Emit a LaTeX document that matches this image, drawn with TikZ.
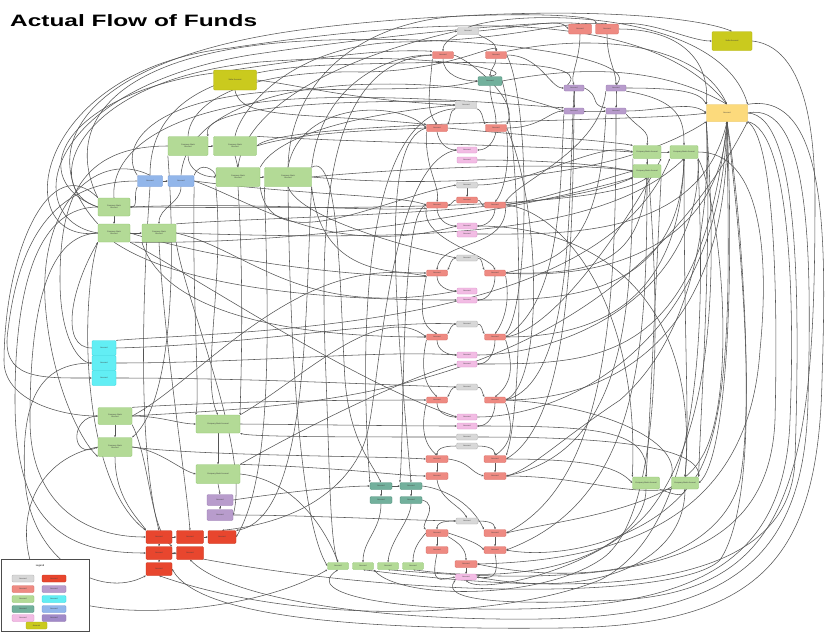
\documentclass[tikz,border=0pt]{standalone}
\usepackage{fontspec}
\setmainfont{Liberation Sans}
\usetikzlibrary{arrows.meta,backgrounds}
\definecolor{cG}{HTML}{B3DA96}\definecolor{cGd}{HTML}{8EC46E}
\definecolor{cY}{HTML}{CACA1E}\definecolor{cYd}{HTML}{B2B20E}
\definecolor{cO}{HTML}{FCDA7C}\definecolor{cOd}{HTML}{E8C050}
\definecolor{cB}{HTML}{92B6EA}\definecolor{cBd}{HTML}{6E96D6}
\definecolor{cC}{HTML}{62EEF4}\definecolor{cCd}{HTML}{30D8E0}
\definecolor{cR}{HTML}{E8462E}\definecolor{cRd}{HTML}{C83018}
\definecolor{cS}{HTML}{EE8A82}\definecolor{cSd}{HTML}{D86A62}
\definecolor{cGy}{HTML}{D8D8D8}\definecolor{cGyd}{HTML}{B0B0B0}
\definecolor{cT}{HTML}{72B09C}\definecolor{cTd}{HTML}{4E8E7A}
\definecolor{cP}{HTML}{F2BCE4}\definecolor{cPd}{HTML}{DC94CC}
\definecolor{cU}{HTML}{B89CCC}\definecolor{cUd}{HTML}{9878B0}
\definecolor{cV}{HTML}{A08AC8}
\definecolor{lc}{HTML}{555555}
\tikzset{
 box/.style={rounded corners=1.2pt, line width=0.3pt, inner sep=0pt, align=center,
   font=\fontsize{2}{2.3}\selectfont, text=black!75},
 grn/.style={box, fill=cG, draw=cGd},
 yel/.style={box, fill=cY, draw=cYd},
 org/.style={box, fill=cO, draw=cOd},
 blu/.style={box, fill=cB, draw=cBd},
 cyn/.style={box, fill=cC, draw=cCd},
 red/.style={box, fill=cR, draw=cRd},
 sal/.style={box, fill=cS, draw=cSd},
 gry/.style={box, fill=cGy, draw=cGyd},
 tea/.style={box, fill=cT, draw=cTd},
 pnk/.style={box, fill=cP, draw=cPd},
 pur/.style={box, fill=cU, draw=cUd},
 wh/.style={minimum width=#1},
 ht/.style={minimum height=#1},
 ln/.style={draw=lc, line width=0.55pt, -{Stealth[length=2.2pt,width=1.8pt]}},
}
\begin{document}
\begin{tikzpicture}[x=1pt,y=1pt]
\useasboundingbox (0,0) rectangle (828,-632);
\node[anchor=base west, inner sep=0pt, font=\fontsize{16.5}{18}\selectfont\bfseries] (title) at (10,-26.5) {\scalebox{1.48}[1]{Actual Flow of Funds}};
% ---------------- nodes ----------------
\node[yel,wh=43,ht=20] (sA) at (235,-80) {Seller Account};
\node[yel,wh=40,ht=19] (sB) at (732,-41) {Seller Account};
\node[grn,wh=40,ht=19] (g1) at (188,-146) {Company Bank\\Account};
\node[grn,wh=43,ht=19] (g2) at (235,-146) {Company Bank\\Account};
\node[grn,wh=44,ht=19] (g3) at (238,-177) {Company Bank\\Account};
\node[grn,wh=47,ht=19] (g4) at (288,-177) {Company Bank\\Account};
\node[blu,wh=25,ht=11] (b1) at (150,-181) {Account};
\node[blu,wh=26,ht=11] (b2) at (181,-181) {Account};
\node[grn,wh=32,ht=18] (g5) at (114,-207) {Company Bank\\Account};
\node[grn,wh=32,ht=18] (g6) at (114,-233) {Company Bank\\Account};
\node[grn,wh=34,ht=18] (g7) at (159,-233) {Company Bank\\Account};
\node[cyn,wh=24,ht=15] (c1) at (104,-348) {Account};
\node[cyn,wh=24,ht=15] (c2) at (104,-363) {Account};
\node[cyn,wh=24,ht=15] (c3) at (104,-378) {Account};
\node[grn,wh=34,ht=17] (g8) at (115,-416) {Company Bank\\Account};
\node[grn,wh=34,ht=19] (g9) at (115,-447) {Company Bank\\Account};
\node[grn,wh=44,ht=18] (g10) at (218,-424) {Company Bank Account};
\node[grn,wh=44,ht=19] (g11) at (218,-474) {Company Bank Account};
\node[pur,wh=26,ht=11] (p1) at (220,-500) {Account};
\node[pur,wh=26,ht=11] (p2) at (220,-515) {Account};
\node[red,wh=26,ht=13] (r1) at (159,-537) {Account};
\node[red,wh=27,ht=13] (r2) at (190,-537) {Account};
\node[red,wh=28,ht=13] (r3) at (222,-537) {Account};
\node[red,wh=26,ht=13] (r4) at (159,-553) {Account};
\node[red,wh=27,ht=13] (r5) at (190,-553) {Account};
\node[red,wh=26,ht=13] (r6) at (159,-569) {Account};
% middle top
\node[gry,wh=21,ht=7] (gy1) at (468,-31) {Account};
\node[sal,wh=21,ht=7] (s1) at (443,-55) {Account};
\node[sal,wh=21,ht=7] (s2) at (496,-55) {Account};
\node[tea,wh=24,ht=9] (t1) at (490,-81) {Account};
\node[gry,wh=21,ht=7] (gy2) at (466,-105) {Account};
\node[sal,wh=21,ht=7] (s3) at (437,-128) {Account};
\node[sal,wh=21,ht=7] (s4) at (496,-128) {Account};
\node[pnk,wh=20,ht=6] (pk1) at (467,-150) {Account};
\node[pnk,wh=20,ht=6] (pk2) at (467,-160) {Account};
\node[sal,wh=23,ht=10] (rr1) at (580,-29) {Account};
\node[sal,wh=23,ht=10] (rr2) at (607,-29) {Account};
\node[pur,wh=20,ht=6] (pu1) at (574,-88) {Account};
\node[pur,wh=20,ht=6] (pu2) at (616,-88) {Account};
\node[pur,wh=20,ht=6] (pu3) at (574,-111) {Account};
\node[pur,wh=20,ht=6] (pu4) at (616,-111) {Account};
\node[grn,wh=28,ht=13] (gr1) at (647,-152) {Company Bank Account};
\node[grn,wh=28,ht=13] (gr2) at (684,-152) {Company Bank Account};
\node[grn,wh=28,ht=13] (gr3) at (647,-171) {Company Bank Account};
\node[org,wh=41,ht=17] (or1) at (727,-113) {Account};
\node[grn,wh=27,ht=12] (gr4) at (646,-483) {Company Bank Account};
\node[grn,wh=27,ht=12] (gr5) at (685,-483) {Company Bank Account};
% sections
\node[gry,wh=21,ht=6] (gy3) at (467,-185) {Account};
\node[sal,wh=21,ht=6] (rd1) at (467,-200) {Account};
\node[sal,wh=21,ht=6] (s5) at (437,-205) {Account};
\node[sal,wh=21,ht=6] (s6) at (495,-205) {Account};
\node[pnk,wh=20,ht=6] (pk3) at (467,-226) {Account};
\node[pnk,wh=20,ht=6] (pk4) at (467,-234) {Account};
\node[gry,wh=21,ht=6] (gy4) at (467,-258) {Account};
\node[sal,wh=21,ht=6] (s7) at (437,-273) {Account};
\node[sal,wh=21,ht=6] (s8) at (495,-273) {Account};
\node[pnk,wh=20,ht=6] (pk5) at (467,-291) {Account};
\node[pnk,wh=20,ht=6] (pk6) at (467,-300) {Account};
\node[gry,wh=21,ht=6] (gy5) at (467,-324) {Account};
\node[sal,wh=21,ht=6] (s9) at (437,-337) {Account};
\node[sal,wh=21,ht=6] (s10) at (495,-337) {Account};
\node[pnk,wh=20,ht=6] (pk7) at (467,-355) {Account};
\node[pnk,wh=20,ht=6] (pk8) at (467,-364) {Account};
\node[gry,wh=21,ht=6] (gy6) at (467,-387) {Account};
\node[sal,wh=21,ht=6] (s11) at (437,-400) {Account};
\node[sal,wh=21,ht=6] (s12) at (495,-400) {Account};
\node[pnk,wh=20,ht=6] (pk9) at (467,-417) {Account};
\node[pnk,wh=20,ht=6] (pk10) at (467,-426) {Account};
\node[gry,wh=21,ht=6] (gy7) at (467,-437) {Account};
\node[gry,wh=21,ht=6] (gy8) at (467,-446) {Account};
\node[sal,wh=22,ht=7] (s13) at (437,-459) {Account};
\node[sal,wh=22,ht=7] (s14) at (495,-459) {Account};
\node[sal,wh=22,ht=7] (s15) at (437,-476) {Account};
\node[sal,wh=22,ht=7] (s16) at (495,-476) {Account};
\node[tea,wh=22,ht=7] (t2) at (381,-486) {Account};
\node[tea,wh=22,ht=7] (t3) at (411,-486) {Account};
\node[tea,wh=22,ht=7] (t4) at (381,-500) {Account};
\node[tea,wh=22,ht=7] (t5) at (411,-500) {Account};
\node[gry,wh=22,ht=6] (gy9) at (467,-521) {Account};
\node[sal,wh=22,ht=7] (s17) at (437,-533) {Account};
\node[sal,wh=22,ht=7] (s18) at (495,-533) {Account};
\node[sal,wh=22,ht=7] (s19) at (437,-550) {Account};
\node[sal,wh=22,ht=7] (s20) at (495,-550) {Account};
\node[sal,wh=22,ht=7] (s21) at (466,-564) {Account};
\node[pnk,wh=21,ht=6] (pk11) at (466,-577) {Account};
\node[grn,wh=21,ht=7] (gb1) at (338,-566) {Account};
\node[grn,wh=21,ht=7] (gb2) at (363,-566) {Account};
\node[grn,wh=21,ht=7] (gb3) at (388,-566) {Account};
\node[grn,wh=21,ht=7] (gb4) at (413,-566) {Account};
% ---------------- connectors ----------------
\begin{pgfonlayer}{background}
\fill[white] (0,0) rectangle (828,-632);
% top arcs left -> right
\draw[ln] (g5.north west) .. controls (60,-120) and (120,-45) .. (330,-40) .. controls (500,-35) and (640,-60) .. (pu2.north);
\draw[ln] (g6.west) .. controls (20,-220) and (40,-90) .. (250,-55) .. controls (420,-30) and (560,-20) .. (rr1.north);
\draw[ln] (g6.west) .. controls (8,-245) and (30,-70) .. (230,-48) .. controls (450,-15) and (650,-8) .. (or1.north);
\draw[ln] (g5.west) .. controls (40,-190) and (70,-80) .. (260,-62) .. controls (420,-50) and (520,-70) .. (t1.north);
\draw[ln] (g6.north west) .. controls (30,-150) and (80,-60) .. (300,-30) .. controls (450,-10) and (600,-12) .. (rr2.north west);
\draw[ln] (g5.west) .. controls (25,-180) and (60,-100) .. (200,-75) .. controls (300,-60) and (380,-48) .. (s1.north west);
\draw[ln] (b1.north) .. controls (150,-110) and (200,-70) .. (330,-65) .. controls (480,-60) and (600,-60) .. (pu1.west);
\draw[ln] (b2.north) .. controls (185,-120) and (260,-90) .. (350,-85) .. controls (450,-80) and (520,-95) .. (pu3.west);
\draw[ln] (g1.north) .. controls (190,-100) and (250,-70) .. (360,-72) .. controls (450,-72) and (500,-40) .. (s2.north);
\draw[ln] (g2.north) .. controls (240,-110) and (290,-45) .. (400,-42) .. controls (520,-40) and (560,-20) .. (rr2.north);
\draw[ln] (g4.north) .. controls (290,-80) and (360,-22) .. (460,-16) .. controls (600,-8) and (700,-18) .. (sB.north);
\draw[ln] (g3.north) .. controls (245,-110) and (330,-60) .. (gy1.west);
\draw[ln] (g4.north east) .. controls (320,-90) and (380,-55) .. (s1.west);
\draw[ln] (g4.north) .. controls (300,-100) and (400,-100) .. (s3.west);
\draw[ln] (g3.north east) .. controls (280,-130) and (380,-112) .. (gy2.west);
\draw[ln] (b1.north west) .. controls (120,-150) and (140,-95) .. (300,-90) .. controls (420,-88) and (440,-90) .. (t1.west);
\draw[ln] (g5.north) .. controls (110,-150) and (170,-110) .. (280,-100) .. controls (380,-92) and (520,-105) .. (pu3.north west);
\draw[ln] (sA.south) .. controls (240,-120) and (300,-112) .. (s3.north west);
\draw[ln] (gy2.north west) .. controls (300,-100) and (200,-110) .. (g1.north east);
\draw[ln] (sA.east) .. controls (300,-85) and (350,-100) .. (gy2.west);
% top right area
\draw[ln] (gy1.east) .. controls (540,-25) and (560,-18) .. (rr1.west);
\draw[ln] (rr1.south) .. controls (580,-60) and (570,-75) .. (pu1.north);
\draw[ln] (rr2.south) .. controls (607,-60) and (616,-70) .. (pu2.north);
\draw[ln] (pu1.south) to[out=-90,in=90] (pu3.north);
\draw[ln] (pu2.south) to[out=-90,in=90] (pu4.north);
\draw[ln] (pu3.east) to[out=0,in=180] (pu4.west);
\draw[ln] (pu1.east) .. controls (600,-95) and (590,-105) .. (pu4.north west);
\draw[ln] (s2.east) .. controls (540,-55) and (550,-88) .. (pu1.west);
\draw[ln] (s4.east) .. controls (540,-128) and (550,-111) .. (pu3.west);
\draw[ln] (rr2.east) .. controls (680,-29) and (710,-60) .. (or1.north west);
\draw[ln] (pu2.east) .. controls (680,-88) and (700,-92) .. (or1.north west);
\draw[ln] (s2.north east) .. controls (600,-32) and (700,-45) .. (or1.north);
\draw[ln] (gy1.north) .. controls (520,-8) and (720,-10) .. (or1.north east);
\draw[ln] (rr2.north east) .. controls (650,-20) and (690,-41) .. (sB.west);
\draw[ln] (pu4.east) .. controls (660,-111) and (690,-100) .. (or1.west);
\draw[ln] (t1.east) .. controls (560,-70) and (650,-60) .. (or1.north);
\draw[ln] (pu4.south east) .. controls (640,-130) and (650,-130) .. (gr1.north);
\draw[ln] (pu2.south east) .. controls (680,-100) and (684,-120) .. (gr2.north);
\draw[ln] (gr1.east) to[out=0,in=180] (gr2.west);
\draw[ln] (gr1.south) to[out=-90,in=90] (gr3.north);
% middle top section
\draw[ln] (gy1.south west) to[out=-150,in=90] (s1.north);
\draw[ln] (gy1.south east) to[out=-30,in=90] (s2.north);
\draw[ln] (s1.south) to[out=-90,in=180] (t1.west);
\draw[ln] (s2.south) to[out=-90,in=90] (t1.north);
\draw[ln] (t1.south) to[out=-90,in=90] (s4.north);
\draw[ln] (s1.south west) .. controls (430,-90) and (425,-110) .. (s3.north);
\draw[ln] (gy2.south west) to[out=-160,in=60] (s3.north east);
\draw[ln] (gy2.south east) to[out=-20,in=120] (s4.north west);
\draw[ln] (s3.south) to[out=-80,in=180] (pk1.west);
\draw[ln] (s4.south) to[out=-100,in=0] (pk1.east);
\draw[ln] (s3.south west) .. controls (425,-170) and (440,-185) .. (s5.north);
\draw[ln] (s4.south east) .. controls (510,-160) and (505,-190) .. (s6.north);
\draw[ln] (s1.east) .. controls (470,-60) and (520,-100) .. (s4.north east);
% section 2
\draw[ln] (gy3.south) -- (rd1.north);
\draw[ln] (rd1.west) to[out=180,in=0] (s5.east);
\draw[ln] (rd1.east) to[out=0,in=180] (s6.west);
\draw[ln] (s5.south) to[out=-90,in=180] (pk3.west);
\draw[ln] (s6.south) to[out=-90,in=0] (pk3.east);
\draw[ln] (s6.south east) .. controls (505,-250) and (440,-240) .. (s7.north);
\draw[ln] (s5.south west) .. controls (420,-240) and (490,-255) .. (s8.north);
% section 3
\draw[ln] (gy4.west) to[out=180,in=60] (s7.north east);
\draw[ln] (gy4.east) to[out=0,in=120] (s8.north west);
\draw[ln] (s7.south) to[out=-90,in=180] (pk5.west);
\draw[ln] (s8.south) to[out=-90,in=0] (pk6.east);
\draw[ln] (s7.south west) .. controls (420,-310) and (420,-325) .. (s9.north);
\draw[ln] (s8.south east) .. controls (510,-300) and (505,-320) .. (s10.north);
% section 4
\draw[ln] (gy5.west) to[out=180,in=60] (s9.north east);
\draw[ln] (gy5.east) to[out=0,in=120] (s10.north west);
\draw[ln] (s9.south) to[out=-90,in=180] (pk7.west);
\draw[ln] (s10.south) to[out=-90,in=0] (pk8.east);
\draw[ln] (s9.south west) .. controls (420,-370) and (425,-385) .. (s11.north);
\draw[ln] (s10.south east) .. controls (515,-370) and (510,-385) .. (s12.north);
% section 5
\draw[ln] (gy6.west) to[out=180,in=60] (s11.north east);
\draw[ln] (gy6.east) to[out=0,in=120] (s12.north west);
\draw[ln] (s11.south) to[out=-90,in=180] (pk9.west);
\draw[ln] (s12.south) to[out=-90,in=0] (pk10.east);
\draw[ln] (s11.south west) .. controls (420,-430) and (425,-445) .. (s13.north);
\draw[ln] (s12.south east) .. controls (515,-430) and (510,-445) .. (s14.north);
% section 6
\draw[ln] (gy8.west) to[out=180,in=90] (s13.north);
\draw[ln] (gy8.east) to[out=0,in=90] (s14.north);
\draw[ln] (s13.south) -- (s15.north);
\draw[ln] (s14.south) -- (s16.north);
\draw[ln] (s13.east) .. controls (470,-462) and (470,-472) .. (s16.west);
\draw[ln] (s15.south) .. controls (440,-500) and (460,-505) .. (gy9.north);
% section 7
\draw[ln] (gy9.west) to[out=180,in=90] (s17.north);
\draw[ln] (gy9.east) to[out=0,in=90] (s18.north);
\draw[ln] (s17.south) -- (s19.north);
\draw[ln] (s18.south) -- (s20.north);
\draw[ln] (s17.south east) to[out=-30,in=90] (s21.north);
\draw[ln] (s21.south) -- (pk11.north);
\draw[ln] (s19.south) .. controls (430,-585) and (440,-580) .. (pk11.west);
\draw[ln] (s20.south) .. controls (500,-580) and (490,-578) .. (pk11.east);
\draw[ln] (s17.east) .. controls (470,-540) and (480,-545) .. (s20.west);
% teal / bottom greens
\draw[ln] (t2.east) -- (t3.west);
\draw[ln] (t3.south) -- (t5.north);
\draw[ln] (t2.south) -- (t4.north);
\draw[ln] (t4.south) .. controls (381,-530) and (363,-540) .. (gb2.north);
\draw[ln] (t5.south) .. controls (411,-520) and (390,-540) .. (gb3.north);
\draw[ln] (s17.west) .. controls (420,-540) and (413,-548) .. (gb4.north);
\draw[ln] (g11.east) .. controls (300,-480) and (330,-540) .. (gb1.north);
\draw[ln] (t3.east) .. controls (440,-488) and (470,-500) .. (s18.north west);
\draw[ln] (t5.east) .. controls (440,-505) and (420,-525) .. (s17.north west);
% left cluster
\draw[ln] (g1.east) -- (g2.west);
\draw[ln] (g2.south) -- (g3.north);
\draw[ln] (g1.south) to[out=-90,in=180] (g3.west);
\draw[ln] (g3.east) -- (g4.west);
\draw[ln] (b1.east) -- (b2.west);
\draw[ln] (g5.south) -- (g6.north);
\draw[ln] (g6.east) -- (g7.west);
\draw[ln] (b1.south west) to[out=-120,in=0] (g5.east);
\draw[ln] (b2.south) to[out=-90,in=90] (g7.north);
\draw[ln] (b2.north east) .. controls (200,-160) and (215,-170) .. (g3.west);
\draw[ln] (g10.south) -- (g11.north);
\draw[ln] (g11.south) -- (p1.north);
\draw[ln] (p1.south) -- (p2.north);
\draw[ln] (g8.east) .. controls (160,-416) and (180,-424) .. (g10.west);
\draw[ln] (g8.south) -- (g9.north);
\draw[ln] (g9.east) .. controls (160,-450) and (180,-470) .. (g11.west);
\draw[ln] (g9.south) .. controls (115,-500) and (140,-520) .. (r1.north west);
\draw[ln] (r1.east) -- (r2.west);
\draw[ln] (r2.east) -- (r3.west);
\draw[ln] (r4.east) -- (r5.west);
\draw[ln] (r1.south) -- (r4.north);
\draw[ln] (r4.south) -- (r6.north);
% left verticals
\draw[ln] (g4.south) .. controls (290,-350) and (300,-520) .. (gb1.west);
\draw[ln] (g4.south west) .. controls (270,-350) and (270,-480) .. (r3.east);
\draw[ln] (g3.south) .. controls (245,-300) and (240,-400) .. (g10.north east);
\draw[ln] (g3.south west) .. controls (225,-280) and (200,-380) .. (g10.north);
\draw[ln] (b1.south) .. controls (142,-300) and (138,-450) .. (r1.north);
\draw[ln] (g7.south) .. controls (165,-350) and (185,-470) .. (r2.north);
\draw[ln] (b2.south east) .. controls (192,-300) and (200,-390) .. (g10.north west);
\draw[ln] (g1.south west) .. controls (175,-250) and (175,-400) .. (g9.north east);
\draw[ln] (g4.south east) .. controls (305,-300) and (310,-520) .. (r3.north east);
\draw[ln] (g7.south east) .. controls (185,-300) and (250,-450) .. (p2.east);
% mid-left verticals
\draw[ln] (g4.north east) .. controls (340,-150) and (340,-300) .. (345,-380) .. controls (350,-440) and (370,-460) .. (t2.north);
\draw[ln] (s3.west) .. controls (380,-140) and (395,-300) .. (t3.north);
\draw[ln] (gy2.south west) .. controls (360,-115) and (360,-350) .. (t2.north west);
\draw[ln] (s5.west) .. controls (400,-210) and (405,-420) .. (t3.north west);
\draw[ln] (s1.west) .. controls (330,-60) and (320,-200) .. (325,-350) .. controls (330,-480) and (330,-540) .. (gb1.north);
\draw[ln] (pk1.west) .. controls (390,-160) and (380,-380) .. (368,-430) .. controls (360,-470) and (320,-520) .. (r3.north);
% horizontals across
\draw[ln] (g2.east) .. controls (300,-132) and (380,-130) .. (s3.west);
\draw[ln] (g2.north east) .. controls (350,-142) and (520,-145) .. (gr1.west);
\draw[ln] (b2.east) .. controls (300,-195) and (400,-195) .. (s5.west);
\draw[ln] (g5.east) .. controls (250,-202) and (380,-212) .. (s5.south west);
\draw[ln] (g7.east) .. controls (400,-240) and (600,-240) .. (gr2.south);
\draw[ln] (g6.south east) .. controls (300,-245) and (500,-215) .. (gr3.south west);
\draw[ln] (g4.east) .. controls (380,-170) and (560,-160) .. (gr3.west);
\draw[ln] (g4.south east) .. controls (320,-268) and (380,-273) .. (s7.west);
\draw[ln] (s8.east) .. controls (600,-275) and (640,-260) .. (gr3.south);
\draw[ln] (g6.south) .. controls (200,-300) and (400,-300) .. (pk6.west);
\draw[ln] (g7.south west) .. controls (170,-330) and (350,-337) .. (s9.west);
\draw[ln] (s10.east) .. controls (600,-337) and (680,-300) .. (gr2.south);
\draw[ln] (c2.east) .. controls (250,-363) and (380,-350) .. (pk7.west);
\draw[ln] (g8.north east) .. controls (250,-400) and (380,-400) .. (s11.west);
\draw[ln] (s12.east) .. controls (600,-400) and (730,-350) .. (or1.south);
\draw[ln] (g10.east) .. controls (350,-425) and (400,-426) .. (pk10.west);
\draw[ln] (g9.east) .. controls (200,-456) and (380,-456) .. (s13.west);
\draw[ln] (s14.east) .. controls (600,-459) and (620,-470) .. (gr4.west);
\draw[ln] (g11.north east) .. controls (350,-468) and (400,-476) .. (s15.west);
\draw[ln] (s16.east) .. controls (580,-476) and (620,-495) .. (gr5.south west);
\draw[ln] (p1.east) .. controls (300,-490) and (350,-486) .. (t2.west);
\draw[ln] (p2.east) .. controls (300,-515) and (400,-520) .. (gy9.west);
\draw[ln] (c3.east) .. controls (250,-378) and (380,-385) .. (gy6.west);
\draw[ln] (c1.east) .. controls (250,-345) and (380,-320) .. (gy5.west);
\draw[ln] (g4.east) .. controls (400,-185) and (600,-190) .. (or1.south west);
\draw[ln] (g2.east) .. controls (280,-120) and (650,-122) .. (or1.west);
\draw[ln] (s3.east) .. controls (520,-135) and (600,-140) .. (gr1.north west);
\draw[ln] (pk2.east) .. controls (550,-160) and (600,-165) .. (gr3.west);
\draw[ln] (g7.north east) .. controls (300,-215) and (550,-215) .. (gr3.south west);
\draw[ln] (pk4.east) .. controls (560,-234) and (700,-240) .. (or1.south);
\draw[ln] (pk6.east) .. controls (560,-300) and (680,-300) .. (gr2.south);
\draw[ln] (pk8.east) .. controls (600,-364) and (700,-364) .. (or1.south);
\draw[ln] (pk10.east) .. controls (600,-426) and (650,-430) .. (gr4.north);
\draw[ln] (gy7.east) .. controls (560,-437) and (700,-440) .. (gr5.north east);
\draw[ln] (gy7.west) .. controls (350,-437) and (250,-437) .. (g10.south east);
\draw[ln] (g5.east) .. controls (300,-208) and (600,-212) .. (gr3.south);
\draw[ln] (g6.east) .. controls (250,-270) and (400,-278) .. (s7.south west);
\draw[ln] (c1.north east) .. controls (250,-330) and (600,-330) .. (gr2.south west);
\draw[ln] (g8.east) .. controls (300,-405) and (600,-405) .. (or1.south east);
% S curves middle
\draw[ln] (g7.east) .. controls (250,-250) and (300,-320) .. (pk5.west);
\draw[ln] (g6.south east) .. controls (200,-280) and (350,-380) .. (pk9.west);
\draw[ln] (g10.north east) .. controls (300,-380) and (380,-300) .. (s9.west);
\draw[ln] (g8.east) .. controls (200,-380) and (300,-250) .. (s7.south west);
\draw[ln] (g11.north east) .. controls (300,-430) and (400,-380) .. (pk8.west);
\draw[ln] (b2.east) .. controls (250,-200) and (330,-260) .. (pk3.west);
\draw[ln] (g4.south) .. controls (300,-220) and (420,-250) .. (gy4.west);
\draw[ln] (g3.south east) .. controls (270,-260) and (380,-200) .. (gy3.west);
% right side S curves
\draw[ln] (s6.east) .. controls (560,-210) and (640,-300) .. (gr4.north west);
\draw[ln] (pk3.east) .. controls (600,-226) and (700,-300) .. (gr5.north);
\draw[ln] (s8.east) .. controls (600,-280) and (720,-250) .. (or1.south);
\draw[ln] (pk7.east) .. controls (560,-355) and (700,-300) .. (gr2.south east);
\draw[ln] (s10.east) .. controls (560,-330) and (640,-200) .. (gr1.south east);
\draw[ln] (pk9.east) .. controls (560,-417) and (720,-350) .. (or1.south);
\draw[ln] (s12.east) .. controls (600,-405) and (680,-440) .. (gr5.north west);
\draw[ln] (s6.east) .. controls (540,-200) and (600,-180) .. (gr3.west);
\draw[ln] (gy3.east) .. controls (530,-185) and (600,-140) .. (gr1.west);
% right verticals
\draw[ln] (pu1.south) .. controls (568,-200) and (575,-380) .. (s12.east);
\draw[ln] (pu3.south) .. controls (572,-250) and (570,-420) .. (s14.east);
\draw[ln] (pu2.south west) .. controls (600,-150) and (520,-180) .. (s6.north east);
\draw[ln] (pu4.south) .. controls (616,-300) and (610,-480) .. (s18.east);
\draw[ln] (gr3.south) .. controls (647,-350) and (640,-500) .. (s20.east);
\draw[ln] (gr1.south west) .. controls (632,-300) and (630,-450) .. (s16.east);
\draw[ln] (gr2.south) .. controls (684,-350) and (690,-430) .. (gr5.north);
\draw[ln] (gr3.south east) .. controls (655,-300) and (650,-420) .. (gr4.north);
\draw[ln] (pu3.south west) .. controls (560,-200) and (560,-300) .. (s10.east);
\draw[ln] (pu4.south west) .. controls (600,-250) and (560,-260) .. (s8.east);
\draw[ln] (s2.east) .. controls (530,-100) and (530,-300) .. (s10.north east);
\draw[ln] (s4.east) .. controls (540,-200) and (545,-380) .. (s12.east);
\draw[ln] (t1.east) .. controls (522,-150) and (525,-400) .. (s14.north east);
\draw[ln] (gr4.south east) to[out=-20,in=-100] (gr5.south);
\draw[ln] (gr4.south) .. controls (646,-540) and (560,-590) .. (gb4.south);
\draw[ln] (gr5.south) .. controls (685,-560) and (600,-600) .. (pk11.east);
\draw[ln] (gr2.east) .. controls (760,-152) and (770,-250) .. (760,-350) .. controls (750,-500) and (650,-560) .. (s21.east);
\draw[ln] (gr2.south east) .. controls (720,-200) and (740,-400) .. (700,-460) .. controls (670,-510) and (560,-520) .. (s18.east);
% or1 downward / big right loops
\draw[ln] (or1.north east) .. controls (830,-90) and (826,-250) .. (822,-380) .. controls (818,-560) and (760,-626) .. (560,-628) .. controls (380,-630) and (200,-620) .. (r6.east);
\draw[ln] (or1.east) .. controls (810,-100) and (812,-250) .. (808,-400) .. controls (805,-560) and (730,-616) .. (540,-619) .. controls (380,-621) and (230,-600) .. (r5.south);
\draw[ln] (or1.south east) .. controls (790,-130) and (795,-300) .. (790,-420) .. controls (785,-560) and (700,-606) .. (520,-609) .. controls (400,-611) and (300,-595) .. (gb1.south);
\draw[ln] (or1.south east) .. controls (775,-140) and (778,-300) .. (775,-420) .. controls (770,-540) and (680,-596) .. (gb3.south);
\draw[ln] (or1.south) .. controls (740,-200) and (755,-400) .. (740,-480) .. controls (720,-560) and (600,-590) .. (s21.east);
\draw[ln] (or1.south) .. controls (728,-250) and (735,-400) .. (700,-470) .. controls (660,-540) and (560,-560) .. (s20.east);
\draw[ln] (or1.south west) .. controls (715,-250) and (720,-420) .. (650,-510) .. controls (600,-570) and (480,-595) .. (pk11.south);
\draw[ln] (or1.south west) .. controls (710,-200) and (700,-330) .. (620,-400) .. controls (560,-440) and (530,-470) .. (s16.east);
\draw[ln] (or1.east) .. controls (800,-115) and (800,-300) .. (795,-460) .. controls (790,-590) and (600,-600) .. (gb2.south);
\draw[ln] (or1.south) .. controls (748,-300) and (760,-500) .. (720,-560) .. controls (680,-600) and (400,-600) .. (r4.east);
\draw[ln] (gr2.south east) .. controls (700,-250) and (720,-520) .. (600,-580) .. controls (500,-620) and (300,-625) .. (r6.south);
\draw[ln] (gr1.south) .. controls (660,-300) and (665,-520) .. (600,-560) .. controls (540,-600) and (400,-600) .. (gb2.south east);
\draw[ln] (or1.south west) .. controls (712,-250) and (700,-420) .. (gr5.north east);
\draw[ln] (or1.south) .. controls (735,-300) and (725,-460) .. (gr5.east);
\draw[ln] (sB.east) .. controls (790,-45) and (815,-90) .. (815,-200) .. controls (815,-480) and (790,-590) .. (620,-600) .. controls (500,-606) and (440,-600) .. (pk11.south west);
% left side loops
\draw[ln] (g5.west) .. controls (40,-207) and (15,-280) .. (15,-400) .. controls (15,-520) and (60,-553) .. (r4.west);
\draw[ln] (g6.west) .. controls (50,-235) and (30,-300) .. (30,-420) .. controls (30,-500) and (80,-537) .. (r1.west);
\draw[ln] (b1.west) .. controls (60,-181) and (20,-230) .. (8,-330) .. controls (0,-380) and (40,-378) .. (c3.west);
\draw[ln] (c1.west) .. controls (60,-348) and (70,-290) .. (g6.south west);
\draw[ln] (c2.west) .. controls (40,-363) and (20,-400) .. (25,-480) .. controls (30,-560) and (100,-600) .. (r6.south west);
\draw[ln] (g8.west) .. controls (70,-416) and (70,-460) .. (g9.west);
\draw[ln] (g9.west) .. controls (30,-460) and (10,-530) .. (40,-585) .. controls (80,-625) and (250,-616) .. (gb1.south west);
\draw[ln] (g5.north west) .. controls (50,-150) and (5,-250) .. (4,-360) .. controls (3,-400) and (60,-416) .. (g8.west);
\draw[ln] (b1.north) .. controls (100,-150) and (40,-200) .. (45,-300) .. controls (50,-380) and (80,-440) .. (g9.south west);
\draw[ln] (g1.west) .. controls (80,-146) and (60,-200) .. (60,-280) .. controls (60,-340) and (80,-363) .. (c2.west);
\draw[ln] (g6.south west) .. controls (80,-300) and (80,-480) .. (r1.north west);
\draw[ln] (g8.south east) .. controls (150,-460) and (150,-530) .. (r4.north east);
\end{pgfonlayer}
% ---------------- legend ----------------
\draw[fill=white, draw=black!70, line width=0.8pt] (1,-559) rectangle (89,-631);
\node[font=\fontsize{2.5}{3}\selectfont] (leg) at (40,-566) {Legend};
\node[gry,wh=22,ht=7] (l1) at (23,-578.5) {Account};
\node[sal,wh=22,ht=7] (l2) at (23,-589) {Account};
\node[grn,wh=22,ht=7] (l3) at (23,-599) {Account};
\node[tea,wh=22,ht=7] (l4) at (23,-609) {Account};
\node[pnk,wh=22,ht=7] (l5) at (23,-618) {Account};
\node[red,wh=24,ht=7] (l6) at (54,-578.5) {Account};
\node[pur,wh=24,ht=7] (l7) at (54,-589) {Account};
\node[cyn,wh=24,ht=7] (l8) at (54,-599) {Account};
\node[blu,wh=24,ht=7] (l9) at (54,-609) {Account};
\node[box,fill=cV,draw=cUd,wh=24,ht=7] (l10) at (54,-618) {Account};
\node[yel,wh=21,ht=7] (l11) at (36.5,-625.5) {Account};
\end{tikzpicture}
\end{document}
